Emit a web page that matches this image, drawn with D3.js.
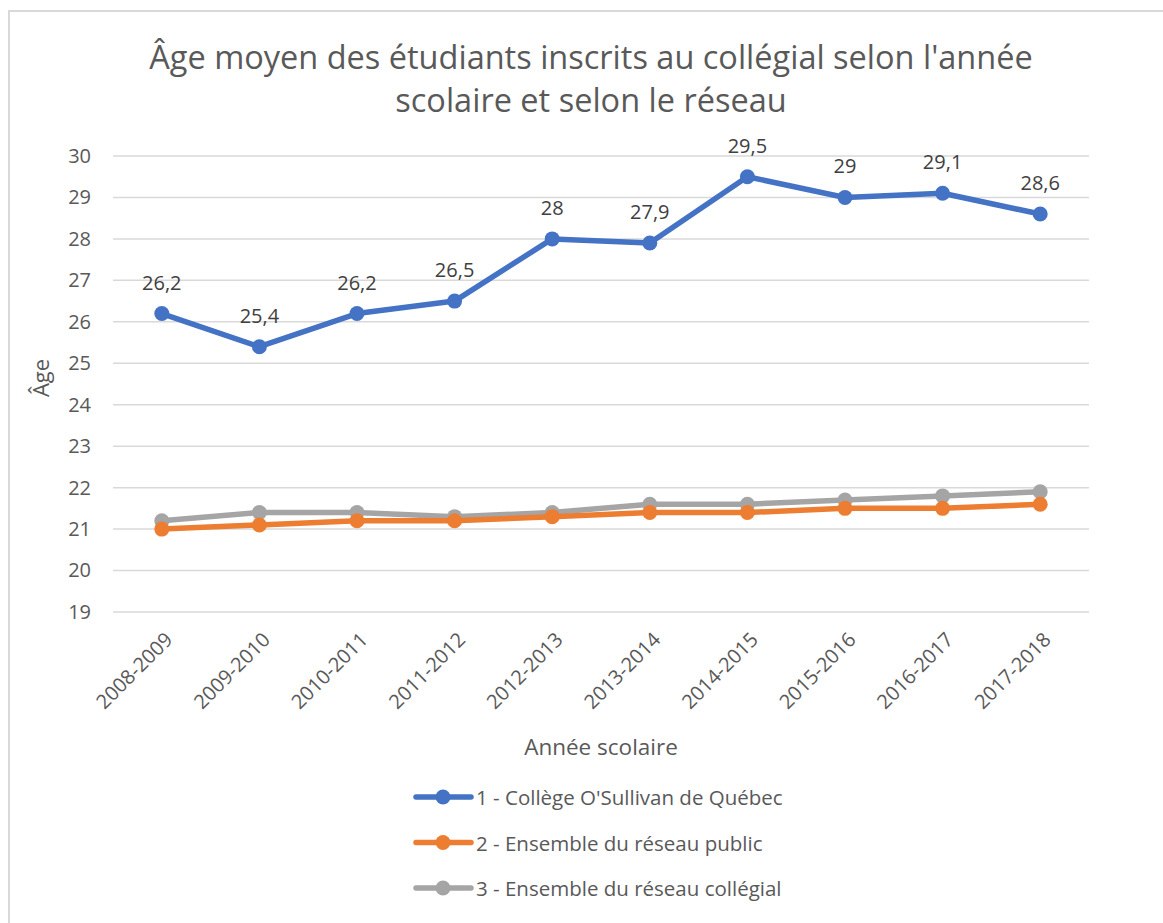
<!DOCTYPE html>
<html>
<head>
<meta charset="utf-8">
<script src="https://cdn.jsdelivr.net/npm/d3@7"></script>
<style>
  html, body { margin: 0; padding: 0; background: #fff; }
  svg { display: block; font-family: "Open Sans", "Noto Sans", sans-serif; }
</style>
</head>
<body>
<svg id="chart" width="1163" height="923"></svg>
<script>
const categories = ["2008-2009","2009-2010","2010-2011","2011-2012","2012-2013","2013-2014","2014-2015","2015-2016","2016-2017","2017-2018"];
const seriesNames = ["1 - Collège O'Sullivan de Québec","2 - Ensemble du réseau public","3 - Ensemble du réseau collégial"];
const osullivan = [26.2,25.4,26.2,26.5,28,27.9,29.5,29,29.1,28.6];
const publicNet = [21.0,21.1,21.2,21.2,21.3,21.4,21.4,21.5,21.5,21.6];
const collegial = [21.2,21.4,21.4,21.3,21.4,21.6,21.6,21.7,21.8,21.9];
const yTicks = [19,20,21,22,23,24,25,26,27,28,29,30];
const colors = ["#4472C4","#ED7D31","#A5A5A5"];
const titleLines = ["Âge moyen des étudiants inscrits au collégial selon l'année","scolaire et selon le réseau"];

(function(){
const svg = d3.select("#chart");
// outer border
svg.append("rect").attr("x",9).attr("y",11).attr("width",1170).attr("height",930)
  .attr("fill","none").attr("stroke","#d9d9d9").attr("stroke-width",2);

const pL = 113, pR = 1089, pT = 156, pB = 612;
const x = d3.scaleBand().domain(categories).range([pL,pR]);
const y = d3.scaleLinear().domain([19,30]).range([pB,pT]);

// title
svg.append("text").attr("text-anchor","middle").attr("fill","#595959")
  .attr("font-size",32.5)
  .selectAll("tspan").data(titleLines).join("tspan")
  .attr("x",591).attr("y",(d,i)=>69+i*43).text(d=>d);

// gridlines
svg.append("g").selectAll("line").data(yTicks).join("line")
  .attr("x1",pL).attr("x2",pR).attr("y1",d=>y(d)).attr("y2",d=>y(d))
  .attr("stroke","#d9d9d9").attr("stroke-width",1.5);

// y axis
const yAxis = svg.append("g").attr("transform",`translate(${pL},0)`)
  .call(d3.axisLeft(y).tickValues(yTicks).tickSize(0).tickPadding(22).tickFormat(d3.format("d")));
yAxis.select(".domain").remove();
yAxis.selectAll("text").attr("font-size",20).attr("fill","#595959").attr("font-family","'Open Sans', sans-serif");

// x axis
const xAxis = svg.append("g").attr("transform",`translate(0,${pB})`)
  .call(d3.axisBottom(x).tickSize(0).tickPadding(0));
xAxis.select(".domain").remove();
xAxis.selectAll("text").attr("font-size",20).attr("fill","#595959").attr("font-family","'Open Sans', sans-serif")
  .attr("text-anchor","end").attr("dy",null).attr("y",0)
  .attr("transform","translate(12,29) rotate(-45)");

// axis titles
svg.append("text").attr("x",601).attr("y",755).attr("text-anchor","middle")
  .attr("font-size",22.5).attr("fill","#595959").text("Année scolaire");
svg.append("text").attr("transform","translate(49,378) rotate(-90)").attr("text-anchor","middle")
  .attr("font-size",22).attr("fill","#595959").text("Âge");

// lines
const allSeries = [osullivan, publicNet, collegial];
const line = d3.line().x((d,i)=>x(categories[i])+x.bandwidth()/2).y(d=>y(d));
[2,1,0].forEach(si=>{
  const g = svg.append("g");
  g.append("path").datum(allSeries[si]).attr("d",line).attr("fill","none")
    .attr("stroke",colors[si]).attr("stroke-width",5.5).attr("stroke-linejoin","round").attr("stroke-linecap","round");
  g.selectAll("circle").data(allSeries[si]).join("circle")
    .attr("cx",(d,i)=>x(categories[i])+x.bandwidth()/2).attr("cy",d=>y(d)).attr("r",7.5)
    .attr("fill",colors[si]);
});

// data labels for series 1
svg.append("g").selectAll("text").data(osullivan).join("text")
  .attr("x",(d,i)=>x(categories[i])+x.bandwidth()/2).attr("y",d=>y(d)-24)
  .attr("text-anchor","middle").attr("font-size",20).attr("fill","#404040")
  .text(d=>String(d).replace(".",","));

// legend
const lg = svg.append("g");
seriesNames.forEach((name,i)=>{
  const yy = 797 + i*45.5;
  lg.append("line").attr("x1",416).attr("x2",471).attr("y1",yy).attr("y2",yy)
    .attr("stroke",colors[i]).attr("stroke-width",5.5).attr("stroke-linecap","round");
  lg.append("circle").attr("cx",443).attr("cy",yy).attr("r",7.5).attr("fill",colors[i]);
  lg.append("text").attr("x",476).attr("y",yy+8).attr("font-size",20.5).attr("fill","#595959").text(name);
});
})();
</script>
</body>
</html>
